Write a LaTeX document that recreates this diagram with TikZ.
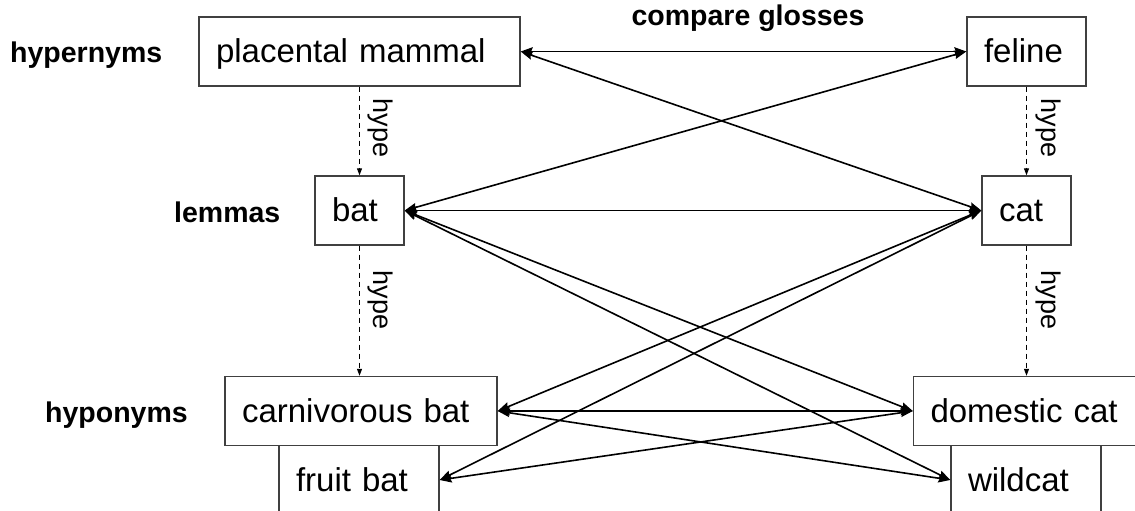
\documentclass[tikz,border=0pt]{standalone}
\usepackage{fontspec}
\setmainfont{Liberation Sans}
\usetikzlibrary{arrows.meta}
\begin{document}
\begin{tikzpicture}[x=1pt,y=-1pt,
  box/.style={draw=black!75, line width=1.4pt, fill=white, minimum height=69pt, inner xsep=17pt, inner ysep=0pt,
    align=left, text height=29.9pt, text depth=7pt, font=\fontsize{33}{40}\selectfont, anchor=center},
  lab/.style={font=\fontsize{28.5}{34}\selectfont\bfseries, inner sep=0pt},
  hl/.style={font=\fontsize{27}{32}\selectfont, inner sep=0pt, rotate=-90},
  link/.style={line width=1.6pt, {Stealth[length=12pt,width=8.5pt,inset=1.5pt]}-{Stealth[length=12pt,width=8.5pt,inset=1.5pt]}},
  dasharrow/.style={line width=1pt, dash pattern=on 5pt off 4pt, -{Triangle[length=7pt,width=5pt]}}
]
\useasboundingbox (0,0) rectangle (1135,511);
\fill[white] (0,0) rectangle (1135,511);
\clip (0,0) rectangle (1135,511);

% boxes
\node[box, text width=126pt] (fb) at (359,480) {fruit bat};
\node[box, text width=116pt] (wc) at (1026,480) {wildcat};
\node[box, text width=287pt] (pm) at (359.5,51.5) {placental mammal};
\node[box, text width=85pt] (fe) at (1026.5,51.5) {feline};
\node[box, text width=55pt] (bat) at (359.5,210.5) {bat};
\node[box, text width=55pt] (cat) at (1026.5,210.5) {cat};
\node[box, text width=238pt] (cb) at (361,411) {carnivorous bat};
\node[box, text width=188pt] (dc) at (1024.5,411) {domestic cat};

% labels
\node[lab, anchor=base west] (hyper) at (10,63) {hypernyms};
\node[lab, anchor=base west] (lem) at (174,222) {lemmas};
\node[lab, anchor=base west] (hypo) at (45,422) {hyponyms};
\node[lab, anchor=base] (cg) at (748,26) {compare glosses};

% hype arrows
\draw[dasharrow] (pm.south) -- (bat.north);
\draw[dasharrow] (bat.south) -- (bat.south |- cb.north);
\draw[dasharrow] (fe.south) -- (cat.north);
\draw[dasharrow] (cat.south) -- (cat.south |- dc.north);
\node[hl] (h1) at (380,128) {hype};
\node[hl] (h2) at (380,300) {hype};
\node[hl] (h3) at (1048,128) {hype};
\node[hl] (h4) at (1048,300) {hype};

% compare glosses links
\draw[link] (pm.east) -- (fe.west);
\draw[link] (pm.east) -- (cat.west);
\draw[link] (bat.east) -- (fe.west);
\draw[link] (bat.east) -- (cat.west);
\draw[link] (bat.east) -- (dc.west);
\draw[link] (bat.east) -- (wc.west);
\draw[link] (cb.east) -- (cat.west);
\draw[link] (fb.east) -- (cat.west);
\draw[link] (cb.east) -- (dc.west);
\draw[link] (cb.east) -- (wc.west);
\draw[link] (fb.east) -- (dc.west);
\end{tikzpicture}
\end{document}
